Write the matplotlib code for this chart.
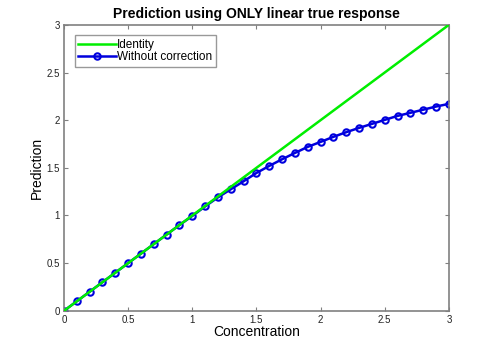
import matplotlib
matplotlib.use("Agg")
import matplotlib.pyplot as plt

plt.rcParams['font.family'] = ['Liberation Sans', 'DejaVu Sans']

# Datos
conc = [0.0, 0.1, 0.2, 0.3, 0.4, 0.5, 0.6, 0.7, 0.8, 0.9, 1.0,
        1.1, 1.2, 1.3, 1.4, 1.5, 1.6, 1.7, 1.8, 1.9, 2.0,
        2.1, 2.2, 2.3, 2.4, 2.5, 2.6, 2.7, 2.8, 2.9, 3.0]
pred = [0.0, 0.1, 0.2, 0.3, 0.4, 0.5, 0.6, 0.7, 0.8, 0.9, 0.995,
        1.095, 1.19, 1.275, 1.359, 1.446, 1.52, 1.59, 1.656, 1.72, 1.772,
        1.825, 1.874, 1.919, 1.961, 2.003, 2.045, 2.077, 2.11, 2.143, 2.171]
identity_x = [0, 3]
identity_y = [0, 3]
xticks = [0, 0.5, 1, 1.5, 2, 2.5, 3]
xticklabels = ["0", "0.5", "1", "1.5", "2", "2.5", "3"]
yticks = [0, 0.5, 1, 1.5, 2, 2.5, 3]
yticklabels = ["0", "0.5", "1", "1.5", "2", "2.5", "3"]

fig = plt.figure(figsize=(4.96, 3.5), dpi=100)
ax = fig.add_axes([0.129, 0.112, 0.776, 0.817])

ax.plot(identity_x, identity_y, "-", color="#00ee00", linewidth=1.8,
        label="Identity", zorder=3)
ax.plot(conc, pred, "o-", color="#0000dd", linewidth=1.8, markersize=4.6,
        markerfacecolor="none", markeredgewidth=1.5, label="Without correction",
        zorder=2)

ax.set_xlim(0, 3)
ax.set_ylim(0, 3)
ax.set_xticks(xticks)
ax.set_xticklabels(xticklabels)
ax.set_yticks(yticks)
ax.set_yticklabels(yticklabels)
ax.tick_params(direction="in", length=3, labelsize=7, colors="#808080",
               labelcolor="#222222", top=True, right=True, pad=3)
for s in ax.spines.values():
    s.set_color("#808080")
    s.set_linewidth(1.2)

ax.set_xlabel("Concentration", fontsize=10, labelpad=0)
ax.set_ylabel("Prediction", fontsize=10, labelpad=2)
ax.set_title("Prediction using ONLY linear true response", fontsize=10,
             fontweight="bold", pad=5)

leg = ax.legend(loc="upper left", fontsize=8.5, frameon=True, fancybox=False,
                handlelength=3.2, handletextpad=0.1, borderpad=0.3,
                labelspacing=0.0, borderaxespad=0.9)
leg.get_frame().set_edgecolor("#808080")
leg.get_frame().set_linewidth(1.0)

fig.savefig("out.png", dpi=100)
